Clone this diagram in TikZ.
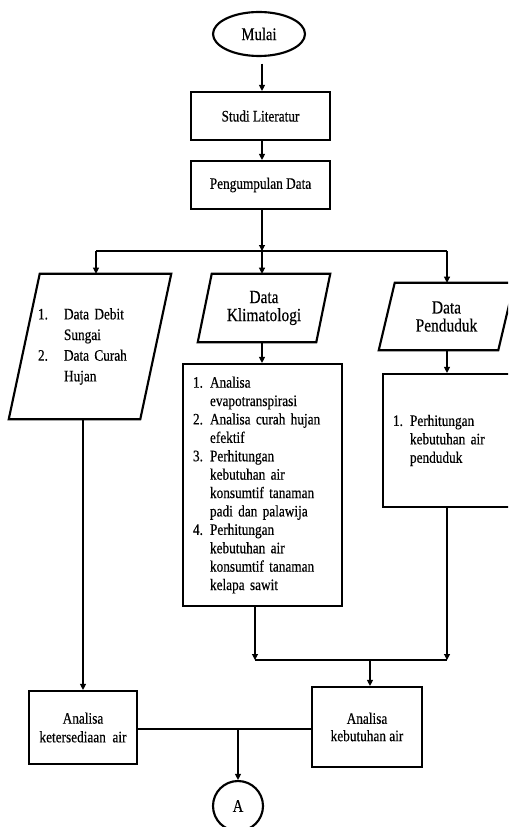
\documentclass[tikz,border=0pt]{standalone}
\usepackage{fontspec}
\setmainfont{Liberation Serif}[FakeStretch=0.83,FakeBold=0.4]
\usetikzlibrary{arrows.meta,shapes.geometric}
\newdimen\pxu \pxu=0.75pt
\newcommand\numi[1]{\makebox[12.75pt][l]{#1}}
\newcommand\numc{\makebox[12.75pt]{}}
\newcommand\numwi[1]{\makebox[19.5pt][l]{#1}}
\newcommand\numwc{\makebox[19.5pt]{}}
\begin{document}
\begin{tikzpicture}[x=0.75pt,y=-0.75pt,
  thick border/.style={draw,line width=1.6pt},
  box/.style={thick border,rectangle,inner sep=0pt,align=center,font=\fontsize{12}{13.5}\selectfont},
  para/.style={draw=none,rectangle,inner sep=0pt},
  outline/.style={line width=1.6pt,line join=miter},
  conn/.style={line width=0.8pt},
  arr/.style={conn,-{Triangle[length=4.5pt,width=4.5pt]}},
  smallfont/.style={font=\fontsize{12}{13.8}\selectfont},
  bigfont/.style={font=\fontsize{13.9}{13.5}\selectfont}]
\useasboundingbox (0,0) rectangle (508,827);
\clip (0,0) rectangle (508,827);
\fill[white] (0,0) rectangle (508,827);

\coordinate (cx) at (262,0);
\node[ellipse,thick border,minimum width=92\pxu,minimum height=44\pxu,inner sep=0pt,font=\fontsize{13.3}{14}\selectfont] (mulai) at (259,34) {Mulai};
\node[box,minimum width=139\pxu,minimum height=48\pxu] (studi) at (260.5,116) {Studi Literatur};
\node[box,minimum width=139\pxu,minimum height=48\pxu] (kumpul) at (260.5,185) {Pengumpulan Data};

\draw[arr,shorten <=5pt] (mulai.south -| cx) -- (studi.north -| cx);
\draw[arr] (studi.south -| cx) -- (kumpul.north -| cx);

\coordinate (jtop) at (262,251);
\coordinate (jl) at (96,251);
\coordinate (jr) at (447,251);
\draw[arr] (kumpul.south -| cx) -- (jtop);
\draw[conn] (jl) -- (jr);

% parallelograms
\node[para,minimum width=131\pxu,minimum height=145\pxu,text width=104\pxu,align=left,font=\fontsize{12}{15.5}\selectfont] (p1) at (90,346.5)
 {\numwi{1.}Data Debit\\ \numwc Sungai\\ \numwi{2.}Data Curah\\ \numwc Hujan};
\draw[outline] ([xshift=15.5\pxu]p1.north west) -- ([xshift=15.5\pxu]p1.north east) -- ([xshift=-15.5\pxu]p1.south east) -- ([xshift=-15.5\pxu]p1.south west) -- cycle;

\node[para,minimum width=118\pxu,minimum height=68\pxu,align=center,bigfont] (p2) at (264,308) {Data\\Klimatologi};
\draw[outline] ([xshift=7\pxu]p2.north west) -- ([xshift=7\pxu]p2.north east) -- ([xshift=-7\pxu]p2.south east) -- ([xshift=-7\pxu]p2.south west) -- cycle;

\node[para,minimum width=119\pxu,minimum height=67\pxu,align=center,bigfont] (p3) at (446.5,316.5) {Data\\Penduduk};
\draw[outline] ([xshift=8\pxu]p3.north west) -- ([xshift=8\pxu]p3.north east) -- ([xshift=-8\pxu]p3.south east) -- ([xshift=-8\pxu]p3.south west) -- cycle;

\draw[arr] (jl) -- (jl |- p1.north);
\draw[arr] (jtop) -- (jtop |- p2.north);
\draw[arr] (jr) -- (jr |- p3.north);

% process boxes
\node[box,minimum width=159\pxu,minimum height=242\pxu,text width=139\pxu,align=left,smallfont] (b2) at (262.5,485)
 {\numi{1.}Analisa\\
  \numc evapotranspirasi\\
  \numi{2.}Analisa curah hujan\\
  \numc efektif\\
  \numi{3.}Perhitungan\\
  \numc kebutuhan air\\
  \numc konsumtif tanaman\\
  \numc padi dan palawija\\
  \numi{4.}Perhitungan\\
  \numc kebutuhan air\\
  \numc konsumtif tanaman\\
  \numc kelapa sawit};
\node[box,minimum width=129\pxu,minimum height=133\pxu,text width=109\pxu,align=left,smallfont] (b3) at (447.5,440.5)
 {\numi{1.}Perhitungan\\
  \numc kebutuhan air\\
  \numc penduduk};

\draw[arr] (p2.south -| cx) -- (b2.north -| cx);
\draw[arr] (p3.south -| jr) -- (b3.north -| jr);

% analysis boxes
\node[box,minimum width=108\pxu,minimum height=73\pxu,font=\fontsize{12}{14}\selectfont] (b4) at (83,727.5) {Analisa\\ketersediaan\ \ air};
\node[box,minimum width=110\pxu,minimum height=80\pxu,font=\fontsize{12}{13}\selectfont] (b5) at (367,727) {Analisa\\kebutuhan air};

\draw[arr] (p1.south -| b4.north) -- (b4.north);

\coordinate (j2l) at (255,660);
\coordinate (j2r) at (447,660);
\coordinate (j2m) at (370,660);
\draw[arr] (b2.south -| j2l) -- (j2l);
\draw[arr] (b3.south -| j2r) -- (j2r);
\draw[conn] (j2l) -- (j2r);
\draw[arr] (j2m) -- (b5.north -| j2m);

\node[circle,thick border,minimum size=50\pxu,inner sep=0pt,font=\fontsize{13.3}{14}\selectfont] (a) at (238,806) {A};
\coordinate (j3) at (238,729);
\draw[conn] (b4.east |- j3) -- (b5.west |- j3);
\draw[arr] (j3) -- (a.north);
\end{tikzpicture}
\end{document}
